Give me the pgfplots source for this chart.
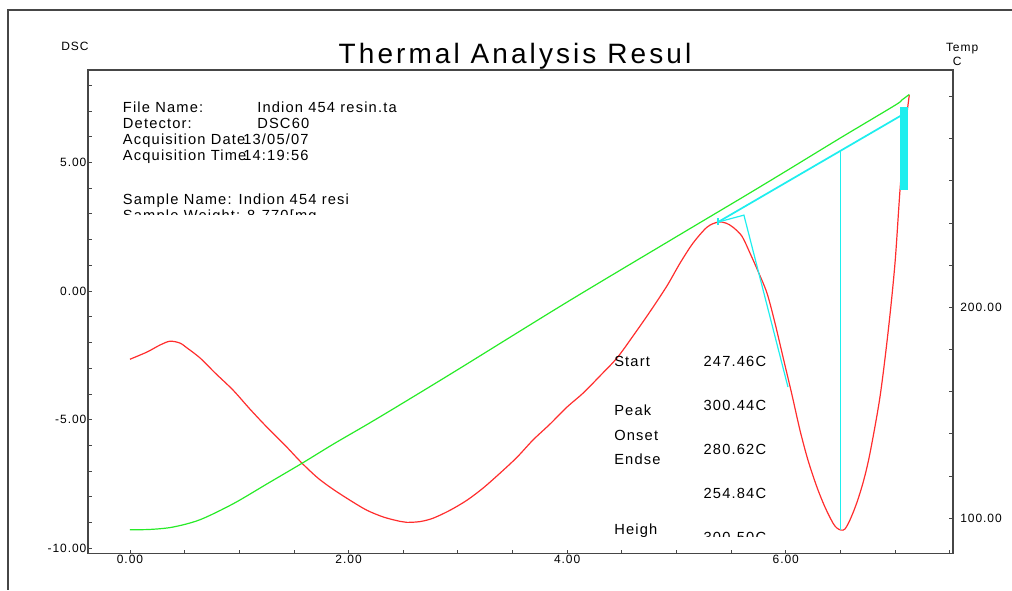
\documentclass[border=0pt]{standalone}
\usepackage{pgfplots}
\pgfplotsset{compat=1.18}
\usepackage{fontspec}
\setmainfont{Liberation Sans}[LetterSpace=8]
\newfontfamily\titlefont{Liberation Sans}[LetterSpace=11]
\newfontfamily\tickfont{Liberation Sans}[LetterSpace=8]

\definecolor{dscred}{RGB}{255,45,45}
\definecolor{tgreen}{RGB}{40,235,40}
\definecolor{cyanl}{RGB}{30,238,238}
\definecolor{frame}{RGB}{70,70,70}

\begin{document}
\begin{tikzpicture}
\path[use as bounding box] (-66pt,-27.375pt) rectangle (693pt,415.125pt);

% DSC signal, left axis
\begin{axis}[
  width=648.75pt, height=362.625pt, scale only axis,
  xmin=-0.384, xmax=7.53,
  ymin=-10.2, ymax=8.59,
  xtick={0,2,4,6}, xticklabels={0.00,2.00,4.00,6.00},
  minor xtick={0.5,1,1.5,2.5,3,3.5,4.5,5,5.5,6.5,7,7.5},
  ytick={-10,-5,0,5}, yticklabels={-10.00,-5.00,0.00,5.00},
  minor ytick={-9,-8,-7,-6,-4,-3,-2,-1,1,2,3,4,6,7,8},
  tick pos=left, tick align=inside,
  major tick length=3pt, minor tick length=3pt,
  tick style={frame, line width=0.6pt},
  axis line style={frame, line width=0.8pt},
  ticklabel style={font=\tickfont\fontsize{9}{10}\selectfont, inner sep=1pt, text=black},
]
\addplot[dscred, line width=0.9pt, smooth, tension=0.5] coordinates {
  (0,-2.65) (0.156,-2.37) (0.274,-2.10) (0.366,-1.95) (0.457,-2.02)
  (0.512,-2.18) (0.641,-2.60) (0.778,-3.18) (0.943,-3.85) (1.098,-4.59)
  (1.253,-5.29) (1.418,-5.99) (1.574,-6.69) (1.720,-7.27) (1.857,-7.70)
  (2.013,-8.13) (2.168,-8.52) (2.324,-8.79) (2.470,-8.95) (2.534,-8.99)
  (2.653,-8.96) (2.772,-8.83) (2.928,-8.52) (3.083,-8.13) (3.230,-7.66)
  (3.385,-7.08) (3.541,-6.46) (3.687,-5.79) (3.843,-5.17) (3.998,-4.51)
  (4.145,-3.97) (4.300,-3.30) (4.456,-2.60) (4.602,-1.75) (4.758,-0.80)
  (4.913,0.20) (5.032,1.08) (5.151,1.86) (5.279,2.48) (5.380,2.68)
  (5.453,2.64) (5.517,2.48) (5.599,2.13) (5.673,1.47) (5.746,0.77)
  (5.828,-0.08) (5.901,-1.24) (5.975,-2.57) (6.057,-4.04) (6.130,-5.41)
  (6.203,-6.57) (6.285,-7.62) (6.359,-8.40) (6.432,-9.02) (6.468,-9.21)
  (6.505,-9.29) (6.541,-9.25) (6.587,-8.90) (6.648,-8.25) (6.710,-7.40)
  (6.770,-6.31) (6.862,-4.11) (6.938,-1.52) (6.999,1.07) (7.045,3.92)
  (7.091,6.25) (7.130,7.61)
};
% peak analysis marks
\addplot[cyanl, line width=1.3pt] coordinates {(5.380,2.68) (7.063,6.84)};
\addplot[cyanl, line width=0.9pt] coordinates {(5.380,2.68) (5.617,2.95) (6.020,-3.73)};
\addplot[cyanl, line width=0.9pt] coordinates {(5.380,2.83) (5.380,2.56)};
\addplot[cyanl, line width=0.8pt] coordinates {(6.502,5.44) (6.502,-9.29)};
\addplot[cyanl, line width=6pt] coordinates {(7.081,7.14) (7.081,3.92)};
\end{axis}

% temperature, right axis
\begin{axis}[
  width=648.75pt, height=362.625pt, scale only axis,
  xmin=-0.384, xmax=7.53,
  ymin=83.3, ymax=312.5,
  axis x line=none, axis y line*=right,
  ytick={100,200}, yticklabels={100.00,200.00},
  minor ytick={120,140,160,180,220,240,260,280,300},
  tick align=inside,
  major tick length=3pt, minor tick length=3pt,
  tick style={frame, line width=0.6pt},
  axis line style={frame, line width=0.8pt},
  yticklabel style={font=\tickfont\fontsize{9}{10}\selectfont, inner sep=1pt, xshift=4.25pt, text=black},
]
\addplot[tgreen, line width=0.9pt, smooth, tension=0.5] coordinates {
  (0,94.6) (0.18,94.7) (0.39,95.8) (0.64,99.3) (0.945,106.9)
  (1.257,116.4) (1.578,126.2) (1.862,135.2) (2.174,144.6) (2.477,154.0)
  (3.0,170.5) (4.0,202.5) (5.0,233.5) (5.6,252) (6.0,264.5)
  (6.5,280.3) (7.0,295.8) (7.06,298.2) (7.13,300.9)
};
\end{axis}

% outer frame of the report page
\draw[frame, line width=0.8pt] (693pt,407.6pt) -- (-60pt,407.6pt) -- (-60pt,-27.375pt);

\node[anchor=base, inner sep=0, font=\titlefont\fontsize{21}{24}\selectfont] at (320.25pt,367.6pt) {Thermal Analysis Resul};
\node[anchor=base west, inner sep=0, font=\tickfont\fontsize{9}{10}\selectfont] at (-20.25pt,377.3pt) {DSC};
\node[anchor=base west, inner sep=0, font=\tickfont\fontsize{9}{10}\selectfont] at (643.3pt,376.2pt) {Temp};
\node[anchor=base west, inner sep=0, font=\tickfont\fontsize{9}{10}\selectfont] at (648.5pt,365.7pt) {C};

\begin{scope}[every node/.style={anchor=base west, inner sep=0, font=\fontsize{11}{13}\selectfont, text=black}]
\node at (26pt,330.9pt) {File Name:};
\node at (126.75pt,330.9pt) {Indion 454 resin.ta};
\node at (26pt,319.1pt) {Detector:};
\node at (126.75pt,319.1pt) {DSC60};
\node at (26pt,306.75pt) {Acquisition Date};
\node at (116.25pt,306.75pt) {13/05/07};
\node at (26pt,294.75pt) {Acquisition Time};
\node at (116.25pt,294.75pt) {14:19:56};
\node at (26pt,261.75pt) {Sample Name: Indion 454 resi};
\begin{scope}
\clip (0pt,254.25pt) rectangle (400pt,300pt);
\node at (26pt,249.4pt) {Sample Weight: 8.770[mg};
\end{scope}
\node at (394.5pt,140.4pt) {Start};
\node at (394.5pt,103.65pt) {Peak};
\node at (394.5pt,85.1pt) {Onset};
\node at (394.5pt,66.7pt) {Endse};
\node at (461.5pt,140.1pt) {247.46C};
\node at (461.5pt,106.9pt) {300.44C};
\node at (461.5pt,74.4pt) {280.62C};
\node at (461.5pt,41.2pt) {254.84C};
\begin{scope}
\clip (380pt,13.1pt) rectangle (560pt,30pt);
\node at (394.5pt,14.4pt) {Heigh};
\node at (461.5pt,8.25pt) {300.50C};
\end{scope}
\end{scope}
\end{tikzpicture}
\end{document}
